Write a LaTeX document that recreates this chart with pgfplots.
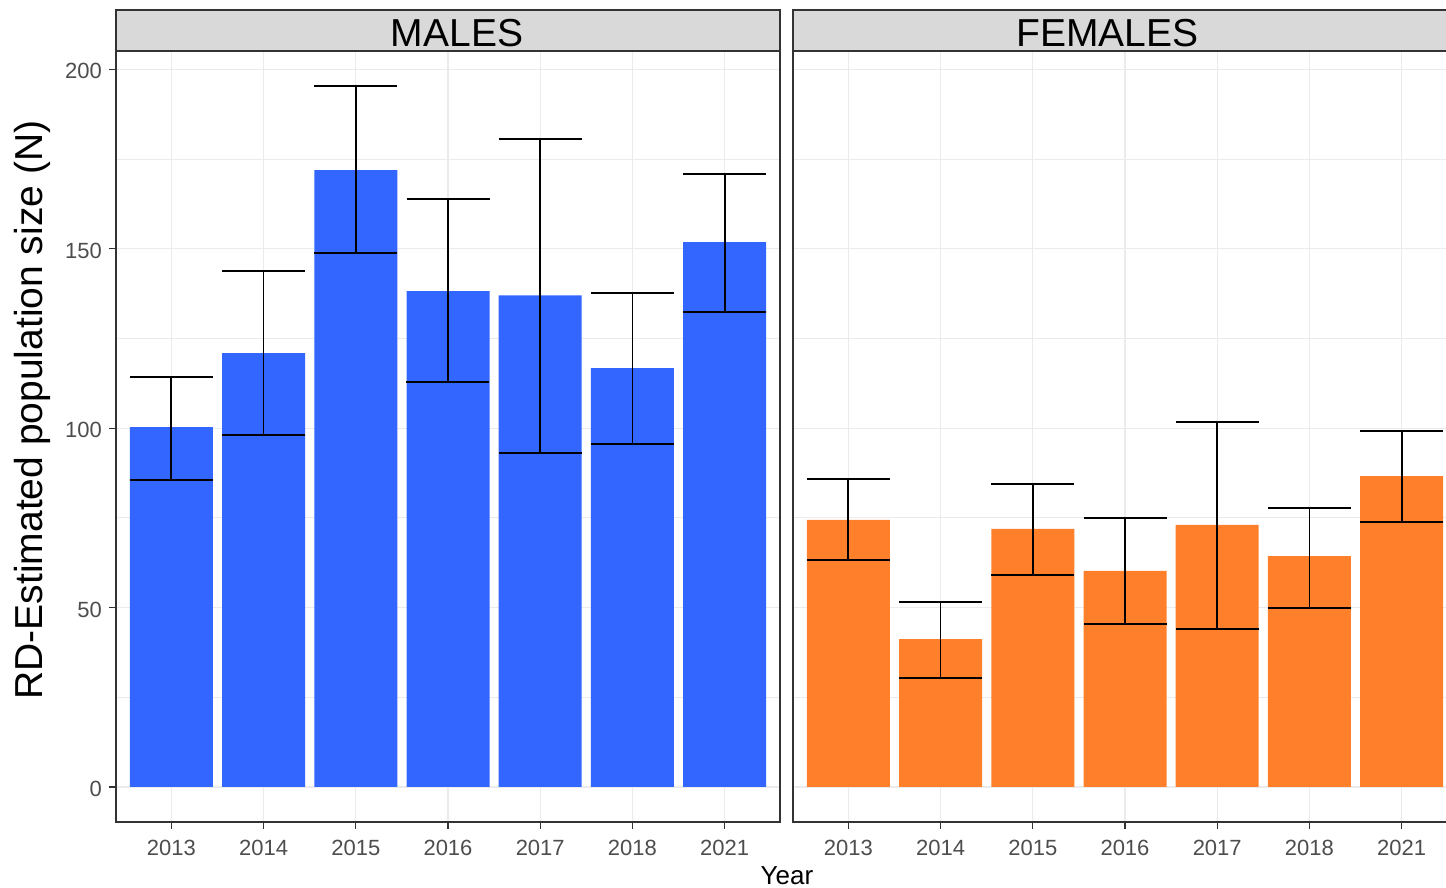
\documentclass[border=0pt]{standalone}
\usepackage{pgfplots}
\usepackage{pgfplotstable}
\pgfplotsset{compat=1.18}
\usepackage{fontspec}
\setmainfont{Liberation Sans}
\definecolor{mblue}{HTML}{3366FF}
\definecolor{forange}{HTML}{FF7F2A}
\definecolor{grey20}{HTML}{333333}
\definecolor{grey30}{HTML}{4D4D4D}
\definecolor{grey92}{HTML}{EBEBEB}
\definecolor{grey85}{HTML}{D9D9D9}

\pgfplotstableread{
x y lo hi
1 100.3 85.5 114.2
2 120.9 98.0 143.7
3 171.9 148.7 195.3
4 138.2 112.8 163.8
5 137.0 93.0 180.5
6 116.7 95.5 137.6
7 151.8 132.3 170.8
}\males

\pgfplotstableread{
x y lo hi
1 74.4 63.2 85.8
2 41.2 30.4 51.5
3 71.9 59.0 84.4
4 60.2 45.4 74.9
5 73.0 44.0 101.7
6 64.3 49.9 77.7
7 86.6 73.8 99.2
}\females

\pgfplotsset{
  panel/.style={
    scale only axis,
    width=332pt, height=385.5pt,
    anchor=south west,
    xmin=0.4, xmax=7.6, ymin=-9.77, ymax=205.1,
    xtick={1,...,7},
    xticklabels={2013,2014,2015,2016,2017,2018,2021},
    ytick={0,50,100,150,200},
    minor ytick={25,75,125,175},
    grid=both,
    major grid style={grey92, line width=0.6pt},
    minor grid style={grey92, line width=0.4pt},
    axis line style={grey20, line width=0.6pt},
    tick align=outside,
    major tick length=3.5pt,
    minor tick length=0pt,
    tick style={grey20, line width=0.6pt},
    xtick pos=bottom, ytick pos=left,
    tick label style={grey30, font=\fontsize{11}{13}\selectfont},
    xticklabel style={yshift=-2pt},
    yticklabel style={yshift=-1pt},
    /pgf/number format/assume math mode=true,
  },
  ebars/.style={
    ybar, bar width=0.9, bar shift=0pt, draw=none,
    error bars/.cd, y dir=both, y explicit,
    error bar style={draw=black, line width=0.9pt},
    error mark options={draw=black, rotate=90, mark size=20.75pt, line width=0.9pt},
  },
}

\begin{document}
\begin{tikzpicture}
\begin{axis}[panel, at={(58pt,33pt)}]
\addplot[fill=mblue, ebars] table[x=x, y=y,
  y error plus expr=\thisrow{hi}-\thisrow{y},
  y error minus expr=\thisrow{y}-\thisrow{lo}] {\males};
\end{axis}
\begin{axis}[panel, at={(396.5pt,33pt)}, yticklabels={}, ytick style={draw=none}]
\addplot[fill=forange, ebars] table[x=x, y=y,
  y error plus expr=\thisrow{hi}-\thisrow{y},
  y error minus expr=\thisrow{y}-\thisrow{lo}] {\females};
\end{axis}
\draw[grey20, fill=grey85, line width=0.6pt] (58pt,418.5pt) rectangle (390pt,439pt);
\draw[grey20, fill=grey85, line width=0.6pt] (396.5pt,418.5pt) rectangle (728.5pt,439pt);
\node[font=\fontsize{19.5}{23}\selectfont] at (228.5pt,427.5pt) {MALES};
\node[font=\fontsize{19.5}{23}\selectfont] at (553.75pt,427.5pt) {FEMALES};
\node[font=\fontsize{19.5}{23}\selectfont, rotate=90] at (16pt,239pt) {RD-Estimated population size (N)};
\node[font=\fontsize{13}{15}\selectfont, anchor=base] at (393.5pt,1.7pt) {Year};
\pgfresetboundingbox
\path[use as bounding box] (0,0) rectangle (723pt,444pt);
\end{tikzpicture}
\end{document}
